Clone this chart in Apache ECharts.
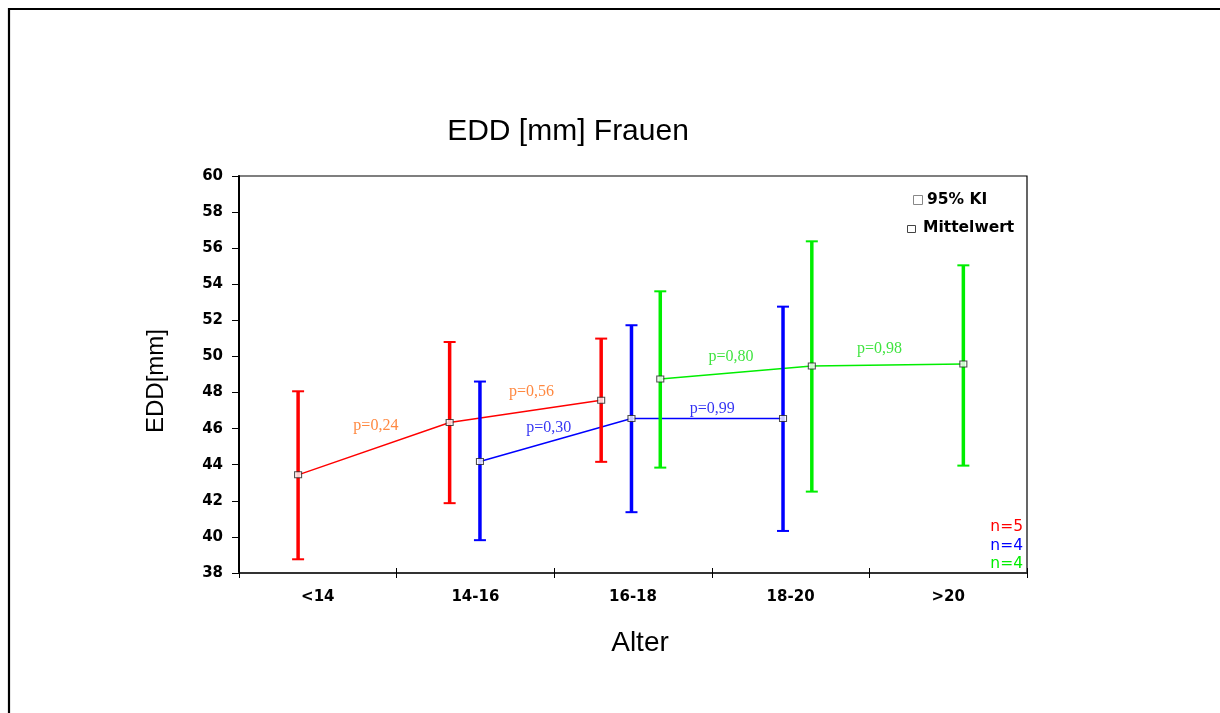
<!DOCTYPE html>
<html>
<head>
<meta charset="utf-8">
<script src="https://cdn.jsdelivr.net/npm/echarts@6/dist/echarts.min.js"></script>
<style>
  html, body { margin: 0; padding: 0; background: #fff; }
  #chart { width: 1220px; height: 713px; }
</style>
</head>
<body>
<div id="chart"></div>
<script>
// Age groups on the x axis
const categories = ['<14', '14-16', '16-18', '18-20', '>20'];

// Red group (n=5): category index, mean, 95% CI
const redCats = [0, 1, 2];
const redMean = [43.44, 46.34, 47.57];
const redLow = [38.76, 41.87, 44.16];
const redHigh = [48.07, 50.80, 50.99];
const redP = ['p=0,24', 'p=0,56'];

// Blue group (n=4)
const blueCats = [1, 2, 3];
const blueMean = [44.18, 46.56, 46.56];
const blueLow = [39.82, 41.37, 40.33];
const blueHigh = [48.61, 51.73, 52.76];
const blueP = ['p=0,30', 'p=0,99'];

// Green group (n=4)
const greenCats = [2, 3, 4];
const greenMean = [48.75, 49.47, 49.58];
const greenLow = [43.84, 42.51, 43.95];
const greenHigh = [53.61, 56.38, 55.05];
const greenP = ['p=0,80', 'p=0,98'];

const sampleSizes = ['n=5', 'n=4', 'n=4'];

// y axis range
const yMin = 38, yMax = 60, yStep = 2;

// Layout: shift of each group inside its category band (plot axis spans 0..5.2)
const groups = [
  { cats: redCats, mean: redMean, low: redLow, high: redHigh, p: redP,
    color: '#ff0000', pColor: '#ff6a10', shift: 0.39,
    pOffsets: [[2, -23], [6, -20]] },
  { cats: blueCats, mean: blueMean, low: blueLow, high: blueHigh, p: blueP,
    color: '#0000ff', pColor: '#0000f0', shift: 0.59,
    pOffsets: [[-7, -12], [5, -10]] },
  { cats: greenCats, mean: greenMean, low: greenLow, high: greenHigh, p: greenP,
    color: '#00ee00', pColor: '#10dd10', shift: 0.78,
    pOffsets: [[-5, -16], [-8, -16]] }
];

const tickFont = 'DejaVu Sans';
const series = [];

groups.forEach(function (g) {
  const xs = g.cats.map(function (c) { return c + g.shift; });

  // connecting line of the means
  series.push({
    type: 'line', xAxisIndex: 1, yAxisIndex: 0, z: 2,
    data: xs.map(function (x, i) { return [x, g.mean[i]]; }),
    symbol: 'none',
    lineStyle: { color: g.color, width: 1.4 },
    silent: true
  });

  // 95% confidence interval bars
  series.push({
    type: 'custom', xAxisIndex: 1, yAxisIndex: 0, z: 3,
    data: xs.map(function (x, i) { return [x, g.low[i], g.high[i]]; }),
    renderItem: function (params, api) {
      const x = api.value(0);
      const pLo = api.coord([x, api.value(1)]);
      const pHi = api.coord([x, api.value(2)]);
      const hw = 6;
      return {
        type: 'group',
        children: [
          { type: 'line', shape: { x1: pLo[0], y1: pLo[1], x2: pHi[0], y2: pHi[1] },
            style: { stroke: g.color, lineWidth: 3.5 } },
          { type: 'line', shape: { x1: pHi[0] - hw, y1: pHi[1], x2: pHi[0] + hw, y2: pHi[1] },
            style: { stroke: g.color, lineWidth: 2 } },
          { type: 'line', shape: { x1: pLo[0] - hw, y1: pLo[1], x2: pLo[0] + hw, y2: pLo[1] },
            style: { stroke: g.color, lineWidth: 2 } }
        ]
      };
    },
    silent: true
  });

  // mean markers
  series.push({
    type: 'scatter', xAxisIndex: 1, yAxisIndex: 0, z: 4,
    data: xs.map(function (x, i) { return [x, g.mean[i]]; }),
    symbol: 'rect', symbolSize: [7, 6],
    itemStyle: { color: '#ffffff', borderColor: '#222', borderWidth: 1 },
    silent: true
  });

  // p-values placed over the middle of each segment
  series.push({
    type: 'scatter', xAxisIndex: 1, yAxisIndex: 0, z: 5,
    data: g.p.map(function (txt, i) {
      return {
        value: [(xs[i] + xs[i + 1]) / 2, (g.mean[i] + g.mean[i + 1]) / 2],
        label: { offset: g.pOffsets[i] }
      };
    }),
    symbolSize: 0,
    label: {
      show: true, position: 'inside',
      formatter: function (p) { return g.p[p.dataIndex]; },
      color: g.pColor, fontFamily: 'Liberation Serif', fontSize: 16
    },
    silent: true
  });
});

const option = {
  animation: false,
  backgroundColor: '#ffffff',
  grid: {
    left: 239, right: 193, top: 176, bottom: 140,
    show: true, borderColor: '#000', borderWidth: 1.2, backgroundColor: 'transparent'
  },
  xAxis: [
    {
      type: 'category', data: categories, position: 'bottom', boundaryGap: true,
      axisLine: { lineStyle: { color: '#333', width: 2 } },
      axisTick: { show: true, length: 5, lineStyle: { color: '#000', width: 1 } },
      axisLabel: { color: '#000', fontFamily: tickFont, fontWeight: 'bold', fontSize: 15, margin: 17 },
      splitLine: { show: false }
    },
    {
      type: 'value', min: 0, max: 5.2, show: false
    },
    {
      type: 'value', min: 0, max: 5, interval: 1, position: 'bottom',
      axisLine: { show: false },
      axisTick: { show: true, inside: true, length: 5, lineStyle: { color: '#000', width: 1 } },
      axisLabel: { show: false },
      splitLine: { show: false }
    }
  ],
  yAxis: [{
    type: 'value', min: yMin, max: yMax, interval: yStep,
    axisLine: { show: true, lineStyle: { color: '#000', width: 2 } },
    axisTick: { show: true, length: 7, lineStyle: { color: '#000', width: 1 } },
    axisLabel: { color: '#000', fontFamily: tickFont, fontWeight: 'bold', fontSize: 15, margin: 16 },
    splitLine: { show: false }
  }],
  graphic: [
    // outer frame
    { type: 'rect', z: 0, shape: { x: 9, y: 9, width: 1400, height: 900 },
      style: { fill: 'none', stroke: '#000', lineWidth: 2.2 } },
    // title
    { type: 'text', x: 568, y: 132, style: {
      text: 'EDD [mm] Frauen', fontFamily: 'Liberation Sans', fontSize: 30,
      fill: '#000', textAlign: 'center', textVerticalAlign: 'middle' } },
    // y axis name
    { type: 'text', x: 156, y: 381, rotation: Math.PI / 2, style: {
      text: 'EDD[mm]', fontFamily: 'Liberation Sans', fontSize: 24,
      fill: '#000', textAlign: 'center', textVerticalAlign: 'middle' } },
    // x axis name
    { type: 'text', x: 640, y: 643, style: {
      text: 'Alter', fontFamily: 'Liberation Sans', fontSize: 28,
      fill: '#000', textAlign: 'center', textVerticalAlign: 'middle' } },
    // key
    { type: 'rect', shape: { x: 913.5, y: 195.5, width: 9, height: 9 },
      style: { fill: '#fff', stroke: '#888', lineWidth: 1 } },
    { type: 'text', x: 927, y: 200, style: {
      text: '95% KI', fontFamily: tickFont, fontWeight: 'bold', fontSize: 15.5,
      fill: '#000', textAlign: 'left', textVerticalAlign: 'middle' } },
    { type: 'rect', shape: { x: 907.5, y: 225.5, width: 8, height: 7 },
      style: { fill: '#fff', stroke: '#444', lineWidth: 1 } },
    { type: 'text', x: 923, y: 228, style: {
      text: 'Mittelwert', fontFamily: tickFont, fontWeight: 'bold', fontSize: 15.5,
      fill: '#000', textAlign: 'left', textVerticalAlign: 'middle' } },
    // sample sizes
    { type: 'text', x: 1023, y: 527, style: {
      text: sampleSizes[0], fontFamily: tickFont, fontSize: 15.5,
      fill: '#ff0000', textAlign: 'right', textVerticalAlign: 'middle' } },
    { type: 'text', x: 1023, y: 546, style: {
      text: sampleSizes[1], fontFamily: tickFont, fontSize: 15.5,
      fill: '#0000ff', textAlign: 'right', textVerticalAlign: 'middle' } },
    { type: 'text', x: 1023, y: 564, style: {
      text: sampleSizes[2], fontFamily: tickFont, fontSize: 15.5,
      fill: '#00ee00', textAlign: 'right', textVerticalAlign: 'middle' } }
  ],
  series: series
};

const chart = echarts.init(document.getElementById('chart'), null, { renderer: 'canvas' });
chart.setOption(option);
</script>
</body>
</html>
